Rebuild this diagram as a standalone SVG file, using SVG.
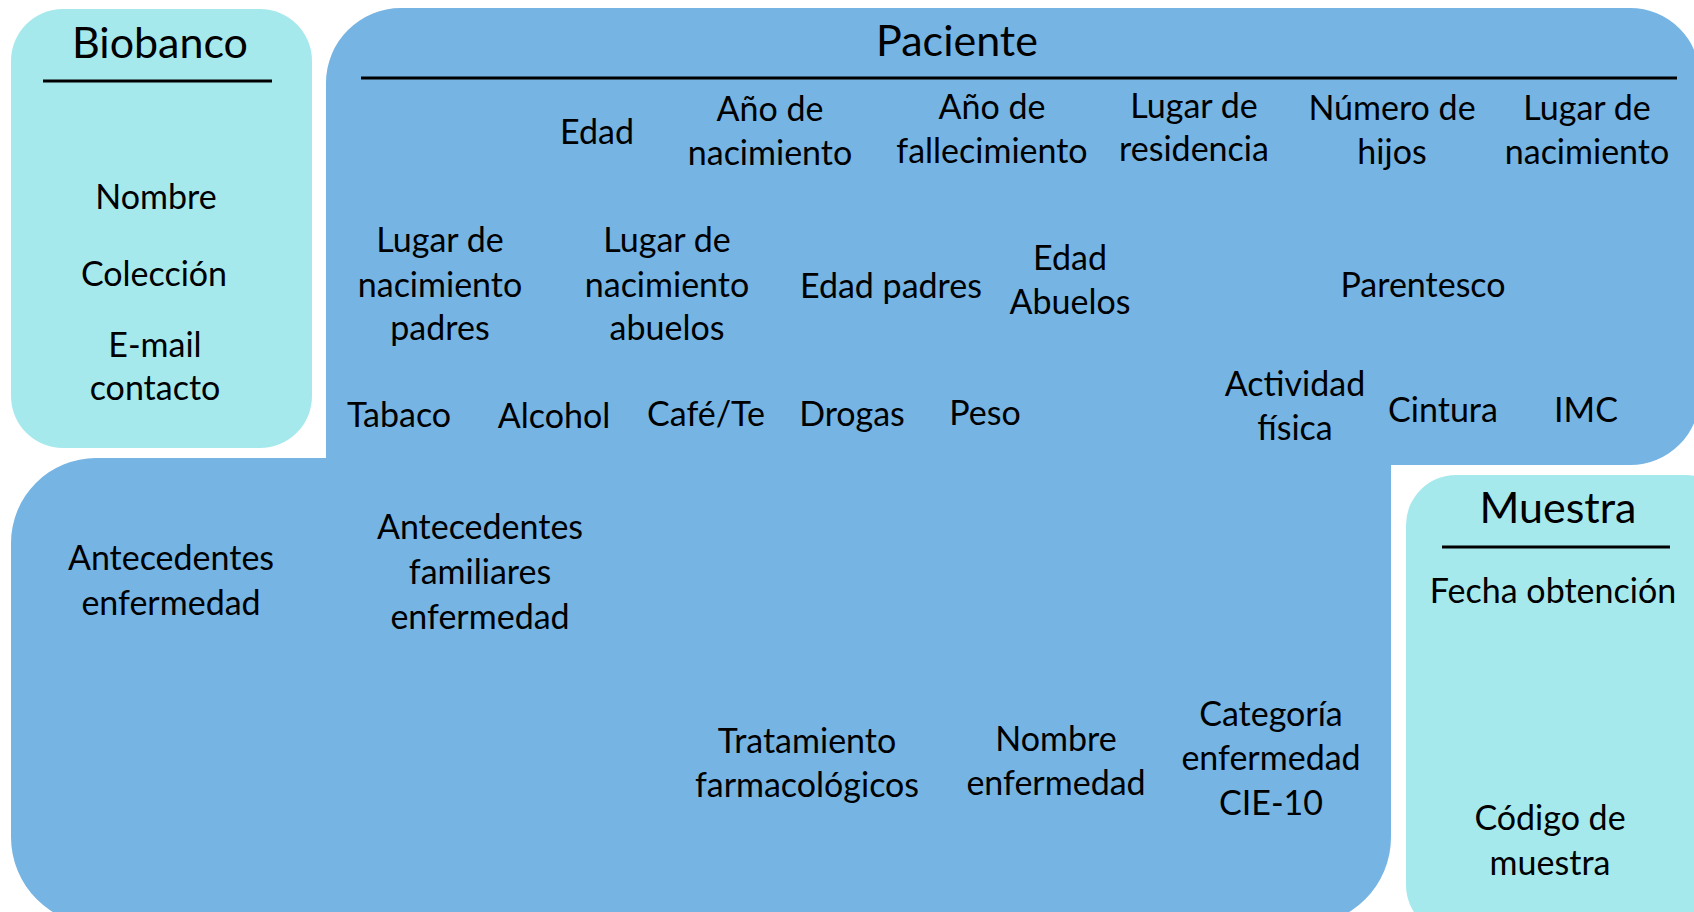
<svg xmlns="http://www.w3.org/2000/svg" width="1694" height="912" viewBox="0 0 1694 912">
<style>
.light{fill:#A5E9ED}
.blue{fill:#75B4E3}
.rule{stroke:#000;stroke-width:3}
text{font-family:Lato,"Noto Sans",sans-serif;fill:#000;text-anchor:middle}
.t{font-size:43px}
.b{font-size:34px}
</style>
<rect width="1694" height="912" fill="#fff"/>
<g id="biobanco">
<rect class="light" x="11" y="9" width="301" height="439" rx="52" ry="52"/>
<text class="t" x="160" y="58">Biobanco</text>
<line class="rule" x1="43" y1="81" x2="272" y2="81"/>
<text class="b" x="156" y="209">Nombre</text>
<text class="b" x="154" y="286">Colección</text>
<text class="b" x="155" y="357">E-mail</text>
<text class="b" x="155" y="400">contacto</text>
</g>
<g id="paciente">
<path class="blue" d="M326 458 V83 A75 75 0 0 1 401 8 H1630 A70 70 0 0 1 1700 78 V395 A70 70 0 0 1 1630 465 H1391 V837 A88 88 0 0 1 1303 925 H99 A88 88 0 0 1 11 837 V543 A85 85 0 0 1 96 458 Z"/>
<text class="t" x="957" y="56">Paciente</text>
<line class="rule" x1="361" y1="78" x2="1677" y2="78"/>
<text class="b" x="597" y="144">Edad</text>
<text class="b" x="770" y="121">Año de</text>
<text class="b" x="770" y="165">nacimiento</text>
<text class="b" x="992" y="119">Año de</text>
<text class="b" x="992" y="163">fallecimiento</text>
<text class="b" x="1194" y="118">Lugar de</text>
<text class="b" x="1194" y="161">residencia</text>
<text class="b" x="1392" y="120">Número de</text>
<text class="b" x="1392" y="164">hijos</text>
<text class="b" x="1587" y="120">Lugar de</text>
<text class="b" x="1587" y="164">nacimiento</text>
<text class="b" x="440" y="252">Lugar de</text>
<text class="b" x="440" y="297">nacimiento</text>
<text class="b" x="440" y="340">padres</text>
<text class="b" x="667" y="252">Lugar de</text>
<text class="b" x="667" y="297">nacimiento</text>
<text class="b" x="667" y="340">abuelos</text>
<text class="b" x="891" y="298">Edad padres</text>
<text class="b" x="1070" y="270">Edad</text>
<text class="b" x="1070" y="314">Abuelos</text>
<text class="b" x="1423" y="297">Parentesco</text>
<text class="b" x="399" y="427">Tabaco</text>
<text class="b" x="554" y="428">Alcohol</text>
<text class="b" x="706" y="426">Café/Te</text>
<text class="b" x="852" y="426">Drogas</text>
<text class="b" x="985" y="425">Peso</text>
<text class="b" x="1295" y="396">Actividad</text>
<text class="b" x="1295" y="440">física</text>
<text class="b" x="1443" y="422">Cintura</text>
<text class="b" x="1586" y="422">IMC</text>
<text class="b" x="171" y="570">Antecedentes</text>
<text class="b" x="171" y="615">enfermedad</text>
<text class="b" x="480" y="539">Antecedentes</text>
<text class="b" x="480" y="584">familiares</text>
<text class="b" x="480" y="629">enfermedad</text>
<text class="b" x="807" y="753">Tratamiento</text>
<text class="b" x="807" y="797">farmacológicos</text>
<text class="b" x="1056" y="751">Nombre</text>
<text class="b" x="1056" y="795">enfermedad</text>
<text class="b" x="1271" y="726">Categoría</text>
<text class="b" x="1271" y="770">enfermedad</text>
<text class="b" x="1271" y="815">CIE-10</text>
</g>
<g id="muestra">
<rect class="light" x="1406" y="475" width="330" height="460" rx="50" ry="50"/>
<text class="t" x="1558" y="523">Muestra</text>
<line class="rule" x1="1442" y1="547" x2="1670" y2="547"/>
<text class="b" x="1553" y="603">Fecha obtención</text>
<text class="b" x="1550" y="830">Código de</text>
<text class="b" x="1550" y="875">muestra</text>
</g>
<g id="connectors"/>
</svg>
